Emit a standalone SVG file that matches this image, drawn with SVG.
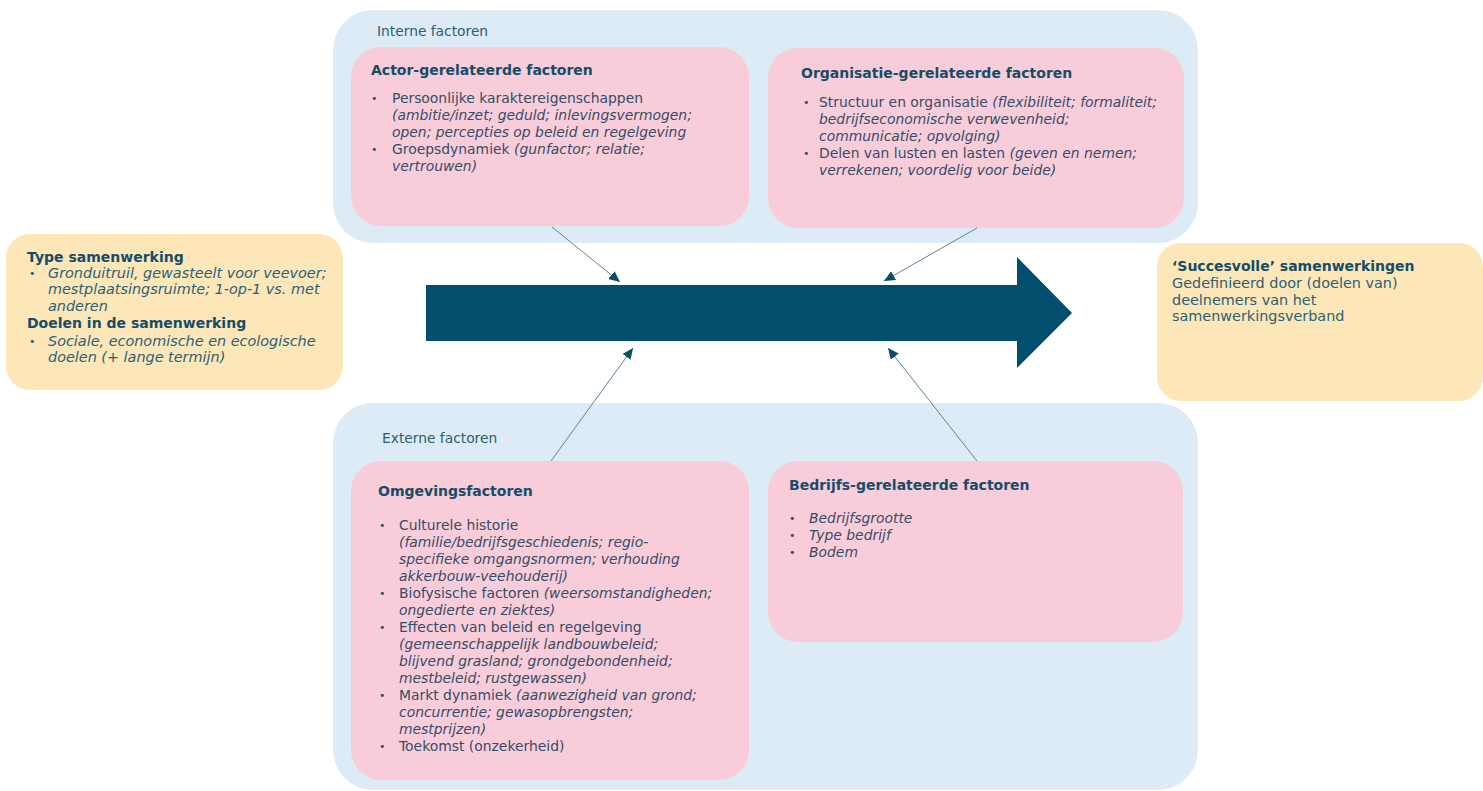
<svg xmlns="http://www.w3.org/2000/svg" width="1483" height="791" viewBox="0 0 1483 791">
<defs>
<style>
.cont{fill:#ddebf7}
.pink{fill:#f8ccd8}
.yel{fill:#fde6b8}
text{font-family:"DejaVu Sans","Verdana",sans-serif}
.lbl{font-size:13.8px;fill:#2a6070}
.ttl{font-size:14px;font-weight:bold;fill:#154d69}
.bd{font-size:13.9px;fill:#344d68}
.bdy{font-size:14.4px;fill:#2a6275}
.it{font-style:italic}
.bul{font-size:11px}
.con{stroke:#5f8494;stroke-width:1;fill:none}
</style>
<marker id="ah" markerUnits="userSpaceOnUse" markerWidth="12" markerHeight="10" refX="11" refY="5" orient="auto">
<path d="M0,0 L11,5 L0,10 Z" fill="#0e4d69"/>
</marker>
</defs>
<rect width="1483" height="791" fill="#ffffff"/>

<g id="interne">
<rect class="cont" x="333" y="10" width="865" height="233" rx="40"/>
<text class="lbl" x="377" y="36">Interne factoren</text>
</g>
<g id="externe">
<rect class="cont" x="333" y="403" width="865" height="387" rx="40"/>
<text class="lbl" x="382" y="443">Externe factoren</text>
</g>

<g id="actor">
<rect class="pink" x="351" y="47" width="398" height="179" rx="30"/>
<text class="ttl" x="371" y="75">Actor-gerelateerde factoren</text>
<text class="bd"><tspan class="bul" x="371" y="102">•</tspan><tspan x="392" y="103">Persoonlijke karaktereigenschappen</tspan><tspan class="it" x="392" y="120">(ambitie/inzet; geduld; inlevingsvermogen;</tspan><tspan class="it" x="392" y="137">open; percepties op beleid en regelgeving</tspan><tspan class="bul" x="371" y="153">•</tspan><tspan x="392" y="154">Groepsdynamiek </tspan><tspan class="it">(gunfactor; relatie;</tspan><tspan class="it" x="392" y="171">vertrouwen)</tspan></text>
</g>

<g id="organisatie">
<rect class="pink" x="768" y="48" width="416" height="180" rx="30"/>
<text class="ttl" x="801" y="78">Organisatie-gerelateerde factoren</text>
<text class="bd"><tspan class="bul" x="803" y="106">•</tspan><tspan x="819" y="107">Structuur en organisatie </tspan><tspan class="it">(flexibiliteit; formaliteit;</tspan><tspan class="it" x="819" y="124">bedrijfseconomische verwevenheid;</tspan><tspan class="it" x="819" y="141">communicatie; opvolging)</tspan><tspan class="bul" x="803" y="157">•</tspan><tspan x="819" y="158">Delen van lusten en lasten </tspan><tspan class="it">(geven en nemen;</tspan><tspan class="it" x="819" y="175">verrekenen; voordelig voor beide)</tspan></text>
</g>

<g id="omgeving">
<rect class="pink" x="351" y="461" width="398" height="319" rx="30"/>
<text class="ttl" x="378" y="496">Omgevingsfactoren</text>
<text class="bd"><tspan class="bul" x="379" y="529">•</tspan><tspan x="399" y="530">Culturele historie</tspan><tspan class="it" x="399" y="547">(familie/bedrijfsgeschiedenis; regio-</tspan><tspan class="it" x="399" y="564">specifieke omgangsnormen; verhouding</tspan><tspan class="it" x="399" y="581">akkerbouw-veehouderij)</tspan><tspan class="bul" x="379" y="597">•</tspan><tspan x="399" y="598">Biofysische factoren </tspan><tspan class="it">(weersomstandigheden;</tspan><tspan class="it" x="399" y="615">ongedierte en ziektes)</tspan><tspan class="bul" x="379" y="631">•</tspan><tspan x="399" y="632">Effecten van beleid en regelgeving</tspan><tspan class="it" x="399" y="649">(gemeenschappelijk landbouwbeleid;</tspan><tspan class="it" x="399" y="666">blijvend grasland; grondgebondenheid;</tspan><tspan class="it" x="399" y="683">mestbeleid; rustgewassen)</tspan><tspan class="bul" x="379" y="699">•</tspan><tspan x="399" y="700">Markt dynamiek </tspan><tspan class="it">(aanwezigheid van grond;</tspan><tspan class="it" x="399" y="717">concurrentie; gewasopbrengsten;</tspan><tspan class="it" x="399" y="734">mestprijzen)</tspan><tspan class="bul" x="379" y="750">•</tspan><tspan x="399" y="751">Toekomst (onzekerheid)</tspan></text>
</g>

<g id="bedrijf">
<rect class="pink" x="768" y="461" width="415" height="181" rx="30"/>
<text class="ttl" x="789" y="490">Bedrijfs-gerelateerde factoren</text>
<text class="bd"><tspan class="bul" x="789" y="522">•</tspan><tspan class="it" x="809" y="523">Bedrijfsgrootte</tspan><tspan class="bul" x="789" y="539">•</tspan><tspan class="it" x="809" y="540">Type bedrijf</tspan><tspan class="bul" x="789" y="556">•</tspan><tspan class="it" x="809" y="557">Bodem</tspan></text>
</g>

<g id="type">
<rect class="yel" x="6" y="234" width="337" height="156" rx="24"/>
<text class="ttl" x="27" y="262">Type samenwerking</text>
<text class="bdy"><tspan class="bul" x="29" y="277">•</tspan><tspan class="it" x="48" y="278">Gronduitruil, gewasteelt voor veevoer;</tspan><tspan class="it" x="48" y="294">mestplaatsingsruimte; 1-op-1 vs. met</tspan><tspan class="it" x="48" y="311">anderen</tspan></text>
<text class="ttl" x="27" y="328">Doelen in de samenwerking</text>
<text class="bdy"><tspan class="bul" x="29" y="345">•</tspan><tspan class="it" x="48" y="346">Sociale, economische en ecologische</tspan><tspan class="it" x="48" y="362">doelen (+ lange termijn)</tspan></text>
</g>

<g id="succes">
<rect class="yel" x="1157" y="243" width="326" height="158" rx="24"/>
<text class="ttl" x="1172" y="271">‘Succesvolle’ samenwerkingen</text>
<text class="bdy"><tspan x="1172" y="288">Gedefinieerd door (doelen van)</tspan><tspan x="1172" y="305">deelnemers van het</tspan><tspan x="1172" y="321">samenwerkingsverband</tspan></text>
</g>

<g id="pijl">
<polygon points="426,285 1017,285 1017,257 1072,313 1017,368 1017,341 426,341" fill="#014e6d"/>
</g>

<g id="connectors">
<line class="con" x1="552" y1="227" x2="620" y2="282" marker-end="url(#ah)"/>
<line class="con" x1="977" y1="228" x2="884" y2="281" marker-end="url(#ah)"/>
<line class="con" x1="551" y1="461" x2="633" y2="348" marker-end="url(#ah)"/>
<line class="con" x1="977" y1="461" x2="888" y2="348" marker-end="url(#ah)"/>
</g>
</svg>
